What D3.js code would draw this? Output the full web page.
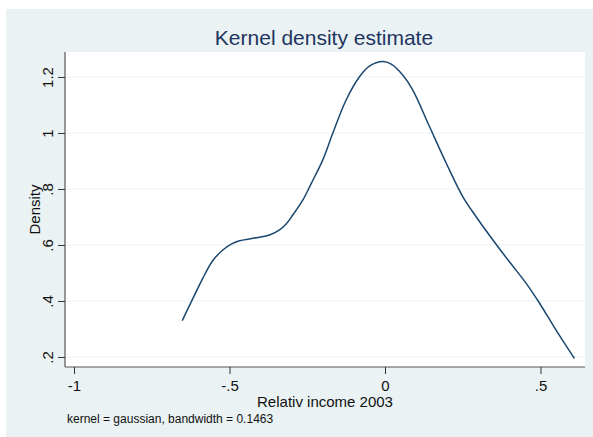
<!DOCTYPE html>
<html>
<head>
<meta charset="utf-8">
<script src="https://cdn.jsdelivr.net/npm/d3@7"></script>
<style>
  html, body { margin: 0; padding: 0; background: #ffffff; }
  svg { display: block; font-family: Arial, "Liberation Sans", sans-serif; }
</style>
</head>
<body>
<svg id="chart" width="593" height="437"></svg>
<script>
// Data
const densityX = [-0.652, -0.6125, -0.586, -0.554, -0.5215, -0.4945, -0.468, -0.425, -0.371, -0.339,
  -0.318, -0.2965, -0.264, -0.237, -0.200, -0.168, -0.125, -0.082, -0.050, -0.007, 0.020, 0.057,
  0.089, 0.143, 0.197, 0.250, 0.293, 0.347, 0.400, 0.454, 0.497, 0.550, 0.609];
const densityY = [0.330, 0.421, 0.481, 0.544, 0.582, 0.603, 0.615, 0.624, 0.636, 0.654,
  0.675, 0.707, 0.761, 0.820, 0.904, 0.999, 1.118, 1.201, 1.239, 1.255, 1.246, 1.207,
  1.154, 1.023, 0.892, 0.773, 0.701, 0.618, 0.540, 0.463, 0.392, 0.296, 0.195];
const xTicks = [-1, -0.5, 0, 0.5];
const xTickLabels = ["-1", "-.5", "0", ".5"];
const yTicks = [0.2, 0.4, 0.6, 0.8, 1.0, 1.2];
const yTickLabels = [".2", ".4", ".6", ".8", "1", "1.2"];
const titleText = "Kernel density estimate";
const xTitle = "Relativ income 2003";
const yTitle = "Density";
const noteText = "kernel = gaussian, bandwidth = 0.1463";

const svg = d3.select("#chart");
const plot = { left: 65, right: 585, top: 52, bottom: 367 };

// background panel
svg.append("rect").attr("x", 6).attr("y", 9).attr("width", 587).attr("height", 428).attr("fill", "#eaf2f3");
svg.append("rect").attr("x", plot.left).attr("y", plot.top)
  .attr("width", plot.right - plot.left).attr("height", plot.bottom - plot.top).attr("fill", "#ffffff");

const x = d3.scaleLinear().domain([-1, 0.5]).range([74, 540.5]);
const y = d3.scaleLinear().domain([0.2, 1.2]).range([357, 77]);

// grid lines
svg.append("g").selectAll("line").data(yTicks).join("line")
  .attr("x1", plot.left).attr("x2", plot.right)
  .attr("y1", d => y(d)).attr("y2", d => y(d))
  .attr("stroke", "#eaf2f3").attr("stroke-width", 1);

// curve
const pts = densityX.map((v, i) => [v, densityY[i]]);
svg.append("path").datum(pts)
  .attr("fill", "none").attr("stroke", "#1a476f").attr("stroke-width", 1.5)
  .attr("d", d3.line().x(d => x(d[0])).y(d => y(d[1])).curve(d3.curveCatmullRom.alpha(0.5)));

// y axis
const yAxis = d3.axisLeft(y).tickValues(yTicks).tickFormat((d, i) => yTickLabels[i]).tickSize(7).tickPadding(4);
const gy = svg.append("g").attr("transform", `translate(${plot.left},0)`).call(yAxis);
gy.select(".domain").attr("d", `M0,${plot.top}V${plot.bottom}`).attr("stroke", "#555").attr("stroke-width", 1.2);
gy.selectAll(".tick line").attr("stroke", "#333");
gy.selectAll(".tick text")
  .attr("font-size", 15).attr("fill", "#111")
  .attr("font-family", "Arial, 'Liberation Sans', sans-serif")
  .attr("text-anchor", "middle").attr("dy", null)
  .attr("x", null)
  .attr("transform", "translate(-12,0) rotate(-90)");

// x axis
const xAxis = d3.axisBottom(x).tickValues(xTicks).tickFormat((d, i) => xTickLabels[i]).tickSize(7).tickPadding(6);
const gx = svg.append("g").attr("transform", `translate(0,${plot.bottom})`).call(xAxis);
gx.select(".domain").attr("d", `M${plot.left},0H${plot.right}`).attr("stroke", "#555").attr("stroke-width", 1.2);
gx.selectAll(".tick line").attr("stroke", "#333");
gx.selectAll(".tick text").attr("font-size", 15).attr("fill", "#111")
  .attr("font-family", "Arial, 'Liberation Sans', sans-serif");

// titles
svg.append("text").attr("x", 324).attr("y", 45).attr("text-anchor", "middle")
  .attr("font-size", 21).attr("fill", "#1e3560").text(titleText);
svg.append("text").attr("x", 325).attr("y", 407).attr("text-anchor", "middle")
  .attr("font-size", 15).attr("fill", "#111").text(xTitle);
svg.append("text").attr("transform", `translate(40,${(plot.top + plot.bottom) / 2}) rotate(-90)`)
  .attr("text-anchor", "middle").attr("font-size", 15).attr("fill", "#111").text(yTitle);
svg.append("text").attr("x", 67).attr("y", 423).attr("font-size", 12).attr("fill", "#111").text(noteText);
</script>
</body>
</html>
